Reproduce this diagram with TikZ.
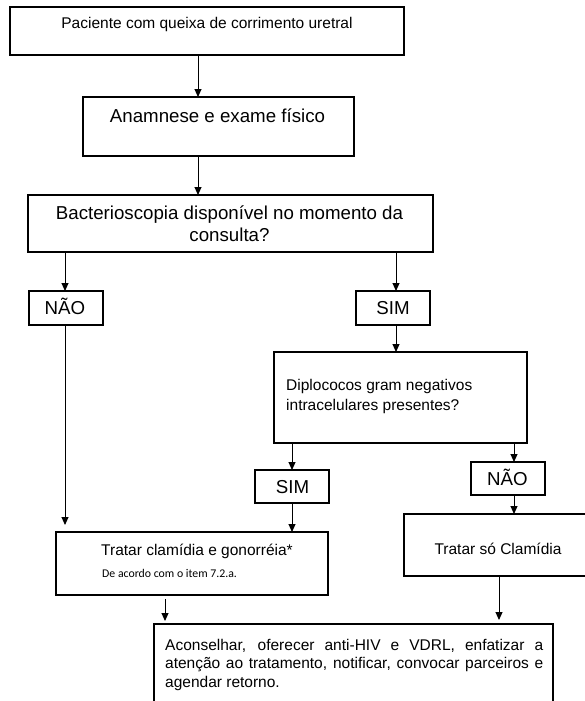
\documentclass[tikz,border=0pt]{standalone}
\usepackage{fontspec}
\setmainfont{Liberation Sans}
\newfontfamily\notefont{Carlito}
\usetikzlibrary{arrows.meta}

\tikzset{
  box/.style={draw, line width=1.8pt, inner sep=0pt, outer sep=0pt, anchor=north west},
  arr/.style={-{Triangle[length=8pt,width=7pt]}, line width=1pt},
  txt/.style={inner sep=0pt, anchor=base, font=\fontsize{15.5}{18.5}\selectfont},
  txtl/.style={txt, anchor=base west},
  big/.style={txt, font=\fontsize{18.7}{22}\selectfont},
  note/.style={inner sep=0pt, anchor=base west, font=\notefont\fontsize{11.8}{14}\selectfont}
}

\begin{document}
\begin{tikzpicture}[x=1pt,y=-1pt]
\useasboundingbox (0,0) rectangle (585,701);
\fill[white] (0,0) rectangle (585,701);
\clip (0,0) rectangle (585,701);

% boxes
\node[box, minimum width=394pt, minimum height=48pt] (b1) at (10,7) {};
\node[box, minimum width=271pt, minimum height=59pt] (b2) at (83,97) {};
\node[box, minimum width=405pt, minimum height=57pt] (b3) at (28,195) {};
\node[box, minimum width=74pt, minimum height=34pt] (nao1) at (29,291) {};
\node[box, minimum width=74pt, minimum height=34pt] (sim1) at (356,291) {};
\node[box, minimum width=253pt, minimum height=91pt] (diplo) at (274,352) {};
\node[box, minimum width=74pt, minimum height=33pt] (sim2) at (255,470) {};
\node[box, minimum width=74pt, minimum height=33pt] (nao2) at (471,462) {};
\node[box, minimum width=272pt, minimum height=63pt] (trat1) at (56,532) {};
\node[box, minimum width=196pt, minimum height=62pt] (trat2) at (404,514) {};
\node[box, minimum width=399pt, minimum height=96pt] (final) at (154,624) {};

% texts
\node[txt] (t1) at (207,29) {Paciente com queixa de corrimento uretral};
\node[big] (t2) at (217.5,122) {Anamnese e exame físico};
\node[big] (t3a) at (229.5,219) {Bacterioscopia disponível no momento da};
\node[big] (t3b) at (229.5,241) {consulta?};
\node[big] (tn1) at (65,314) {NÃO};
\node[big] (ts1) at (393,314) {SIM};
\node[txtl] (td1) at (286,390) {Diplococos gram negativos};
\node[txtl] (td2) at (286,410) {intracelulares presentes?};
\node[big] (ts2) at (292.5,493) {SIM};
\node[big] (tn2) at (507.5,485) {NÃO};
\node[txt] (tt1) at (197,555) {Tratar clamídia e gonorréia*};
\node[note] (tnote) at (102,577) {De acordo com o item 7.2.a.};
\node[txt] (tt2) at (498,554) {Tratar só Clamídia};
\node[txtl] (tf1) at (165,650) {\makebox[378pt][s]{Aconselhar, oferecer anti-HIV e VDRL, enfatizar a}};
\node[txtl] (tf2) at (165,668.5) {\makebox[378pt][s]{atenção ao tratamento, notificar, convocar parceiros e}};
\node[txtl] (tf3) at (165,687) {agendar retorno.};

% connector columns
\coordinate (cA) at (198,0);
\coordinate (cL) at (65,0);
\coordinate (cR) at (396,0);
\coordinate (cS) at (292,0);
\coordinate (cN) at (514,0);
\coordinate (cF1) at (165,0);
\coordinate (cF2) at (499,0);

% connectors
\draw[arr] (b1.south -| cA) -- (b2.north -| cA);
\draw[arr] (b2.south -| cA) -- (b3.north -| cA);
\draw[arr] (b3.south -| cL) -- (nao1.north -| cL);
\draw[arr] (b3.south -| cR) -- (sim1.north -| cR);
\draw[arr] (sim1.south -| cR) -- (diplo.north -| cR);
\draw[arr, shorten >=7pt] (nao1.south -| cL) -- (trat1.north -| cL);
\draw[arr] (diplo.south -| cS) -- (sim2.north -| cS);
\draw[arr] (sim2.south -| cS) -- (trat1.north -| cS);
\draw[arr] (diplo.south -| cN) -- (nao2.north -| cN);
\draw[arr] (nao2.south -| cN) -- (trat2.north -| cN);
\draw[arr, shorten <=4pt, shorten >=3pt] (trat1.south -| cF1) -- (final.north -| cF1);
\draw[arr, shorten >=4pt] (trat2.south -| cF2) -- (final.north -| cF2);
\end{tikzpicture}
\end{document}
